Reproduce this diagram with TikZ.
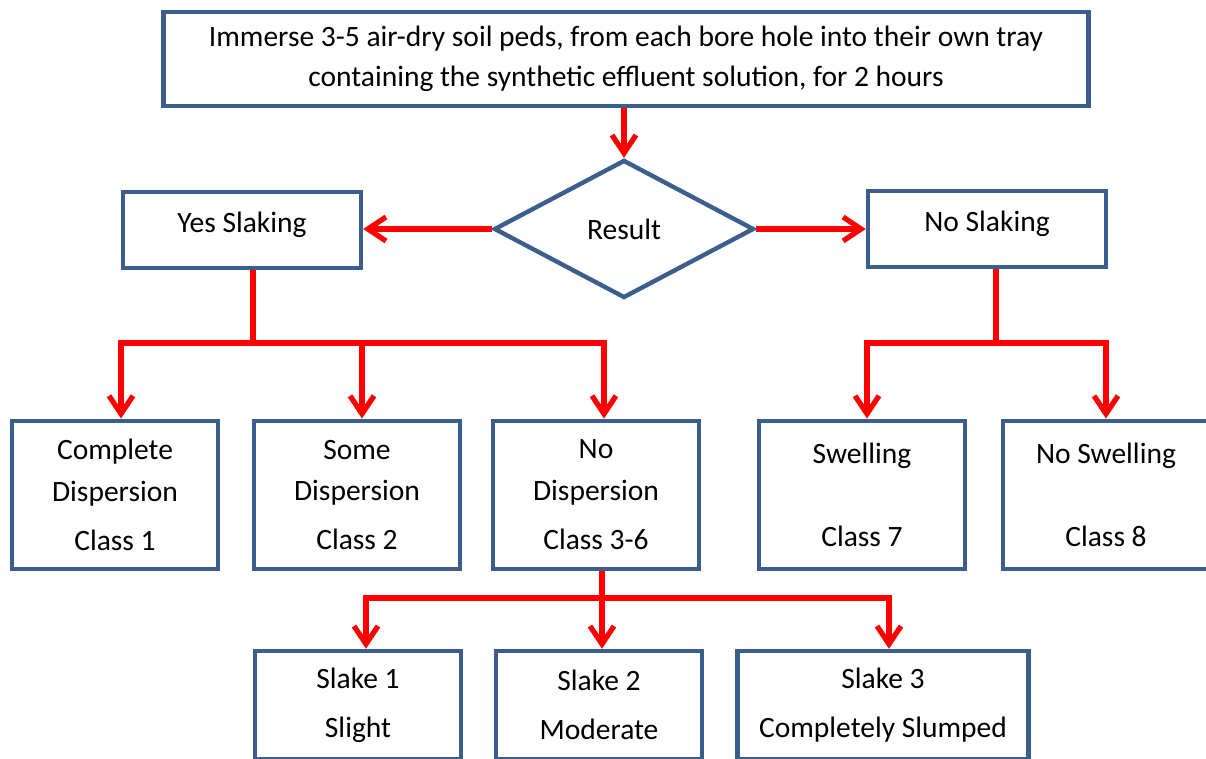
\documentclass[tikz,border=0pt]{standalone}
\usepackage{fontspec}
\setmainfont{Carlito}
\usetikzlibrary{arrows.meta,shapes,calc}
\definecolor{boxBlue}{HTML}{3B5E8C}
\definecolor{linkRed}{HTML}{FF0000}
\tikzset{%
  >={Straight Barb[length=3.6mm,width=4.8mm]},
  % Specifications for style of nodes:
            base/.style = {rectangle, draw=boxBlue, line width=2.5pt,
                           text centered, align=center, inner sep=0pt,
                           font=\fontsize{16.8pt}{23pt}\selectfont},
          topbox/.style = {base, minimum width=18.5cm, minimum height=1.87cm},
       branchbox/.style = {base, minimum width=4.76cm, minimum height=1.52cm,
                           text depth=0.3cm},
        classbox/.style = {base, minimum width=4.12cm, minimum height=2.97cm},
        slakebox/.style = {base, minimum width=4.12cm, minimum height=2.16cm},
        decision/.style = {base, diamond, minimum width=5.2cm, minimum height=2.76cm},
            link/.style = {draw=linkRed, line width=3pt},
}

\begin{document}
\begin{tikzpicture}[x=0.02cm, y=-0.02cm]
  \useasboundingbox (0,0) rectangle (1206,759);
  \clip (0,0) rectangle (1206,759);

  \node (immerseBlock)   [topbox] at (626,59)
                         {Immerse 3-5 air-dry soil peds, from each bore hole into their own tray\\
                          containing the synthetic effluent solution, for 2 hours};
  \node (resultBlock)    [decision] at (624,229) {Result};
  \node (yesSlaking)     [branchbox] at (242,230) {Yes Slaking};
  \node (noSlaking)      [branchbox] at (987,229) {No Slaking};

  \node (class1Block)    [classbox] at (115,495) {Complete\\[0.03cm] Dispersion\\[0.17cm] Class 1};
  \node (class2Block)    [classbox] at (357,495) {Some\\[0.03cm] Dispersion\\[0.17cm] Class 2};
  \node (class36Block)   [classbox] at (596,495) {No\\[0.03cm] Dispersion\\[0.17cm] Class 3-6};
  \node (class7Block)    [classbox] at (862,495) {Swelling\\[0.85cm] Class 7};
  \node (class8Block)    [classbox] at (1106,495) {No Swelling\\[0.85cm] Class 8};

  \node (slake1Block)    [slakebox] at (358,705) {Slake 1\\[0.17cm] Slight};
  \node (slake2Block)    [slakebox] at (599,705) {Slake 2\\[0.17cm] Moderate};
  \node (slake3Block)    [slakebox, minimum width=5.82cm] at (883,705)
                         {Slake 3\\[0.17cm] Completely Slumped};

  % branch points of the red connectors
  \coordinate (yesBus)   at (253,343);
  \coordinate (noBus)    at (996,343);
  \coordinate (slakeBus) at (602,598);

  % Specification of lines between nodes specified above
  \draw[->, link]   (immerseBlock.south -| resultBlock.north) -- (resultBlock.north);
  \draw[->, link]   (resultBlock.west) -- (resultBlock.west -| yesSlaking.east);
  \draw[->, link]   (resultBlock.east) -- (resultBlock.east -| noSlaking.west);

  \draw[link]       (yesSlaking.south -| yesBus) -- (yesBus);
  \draw[->, link]   (yesBus) -| ([xshift=0.12cm]class1Block.north);
  \draw[->, link]   (yesBus) -| ([xshift=0.1cm]class2Block.north);
  \draw[->, link]   (yesBus) -| ([xshift=0.16cm]class36Block.north);

  \draw[link]       (noSlaking.south -| noBus) -- (noBus);
  \draw[->, link]   (noBus) -| ([xshift=0.1cm]class7Block.north);
  \draw[->, link]   (noBus) -| (class8Block.north);

  \draw[link]       (class36Block.south -| slakeBus) -- (slakeBus);
  \draw[->, link]   (slakeBus) -| ([xshift=0.16cm]slake1Block.north);
  \draw[->, link]   (slakeBus) -- (slakeBus |- slake2Block.north);
  \draw[->, link]   (slakeBus) -| ([xshift=0.12cm]slake3Block.north);
\end{tikzpicture}
\end{document}
